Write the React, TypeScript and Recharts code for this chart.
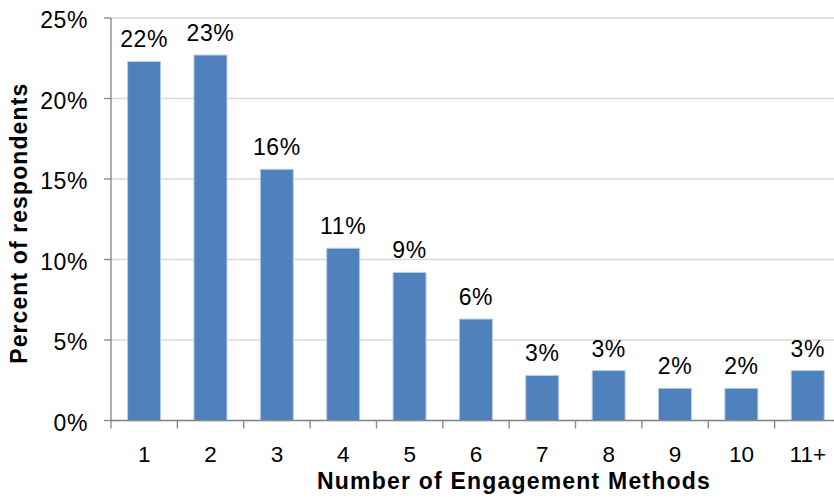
import React from "react";
import { Bar, BarChart, CartesianGrid, LabelList, XAxis, YAxis } from "recharts";

const methods = ["1", "2", "3", "4", "5", "6", "7", "8", "9", "10", "11+"];
const respondents = [22.3, 22.7, 15.6, 10.7, 9.2, 6.3, 2.8, 3.1, 2.0, 2.0, 3.1];
const yTicks = [0, 5, 10, 15, 20, 25];

const data = methods.map((m, i) => ({ method: m, pct: respondents[i] }));

const FONT = "'Liberation Sans', Arial, sans-serif";
const AXIS = "#868686";

// category ticks sit between the bars, labels in the middle
function MethodTick(props: any) {
  const { x, y, payload, index, visibleTicksCount } = props;
  const half = payload?.offset ?? 33.2;
  return (
    <g>
      <line x1={x - half} x2={x - half} y1={y} y2={y + 8} stroke={AXIS} strokeWidth={1.3} />
      {index === visibleTicksCount - 1 && (
        <line x1={x + half} x2={x + half} y1={y} y2={y + 8} stroke={AXIS} strokeWidth={1.3} />
      )}
      <text x={x} y={y + 41.5} textAnchor="middle" fontSize={22.5} fill="#000" fontFamily={FONT}>
        {payload.value}
      </text>
    </g>
  );
}

function PercentTitle(props: any) {
  const vb = props.viewBox || { x: 0, y: 0, height: 0 };
  const cx = vb.x + 19;
  const cy = vb.y + vb.height / 2 + 4;
  return (
    <text
      x={cx}
      y={cy}
      transform={`rotate(-90, ${cx}, ${cy})`}
      textAnchor="middle"
      dominantBaseline="central"
      fontFamily={FONT}
      fontSize={23}
      fontWeight={700}
      letterSpacing={1.1}
      fill="#000"
    >
      Percent of respondents
    </text>
  );
}

export default function App() {
  return (
    <div style={{ position: "fixed", left: 0, top: 0, width: 834, height: 499, overflow: "hidden", background: "#fff" }}>
      <BarChart
        width={841}
        height={499}
        data={data}
        margin={{ top: 18, right: 0, bottom: 0, left: 0 }}
        barCategoryGap="25%"
      >
        <CartesianGrid horizontal vertical={false} stroke="#d9d9d9" strokeWidth={1.3} />
        <XAxis
          dataKey="method"
          tickLine={false}
          axisLine={{ stroke: AXIS, strokeWidth: 1.3 }}
          tick={<MethodTick />}
          tickSize={0}
          tickMargin={0}
          interval={0}
          height={78.5}
          label={{
            value: "Number of Engagement Methods",
            position: "insideBottom",
            offset: 10,
            dx: 38,
            style: { fontFamily: FONT, fontSize: 23, fontWeight: 700, fill: "#000", letterSpacing: 1.2 },
          }}
        />
        <YAxis
          domain={[0, 25]}
          ticks={yTicks}
          interval={0}
          width={111}
          tickFormatter={(v) => `${v}%`}
          tickSize={7}
          tickMargin={16}
          tickLine={{ stroke: AXIS, strokeWidth: 1.3 }}
          axisLine={{ stroke: AXIS, strokeWidth: 1.3 }}
          tick={{ fontFamily: FONT, fontSize: 23, fill: "#000", dy: 2, letterSpacing: 0.6 }}
          label={<PercentTitle />}
        />
        <Bar dataKey="pct" fill="#4f81bd" stroke="#b9cde5" strokeWidth={1} isAnimationActive={false}>
          <LabelList
            dataKey="pct"
            position="top"
            offset={14}
            formatter={(v: any) => `${Math.round(Number(v))}%`}
            style={{ fontFamily: FONT, fontSize: 23, fill: "#000", letterSpacing: 0.6 }}
          />
        </Bar>
      </BarChart>
    </div>
  );
}
